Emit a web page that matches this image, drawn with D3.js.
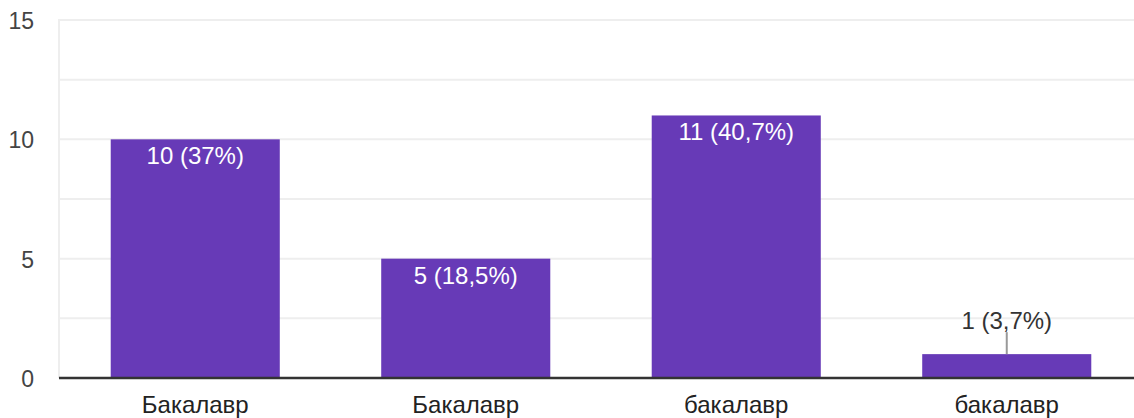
<!DOCTYPE html>
<html><head><meta charset="utf-8">
<script src="https://cdn.jsdelivr.net/npm/d3@7"></script>
<style>body{margin:0;background:#fff;overflow:hidden}svg{display:block;font-family:"Liberation Sans",Arial,sans-serif}</style>
</head><body>
<script>
const categories = ["Бакалавр", "Бакалавр ", "бакалавр", "бакалавр "];
const categoryLabels = ["Бакалавр", "Бакалавр", "бакалавр", "бакалавр"];
const values = [10, 5, 11, 1];
const valueLabels = ["10 (37%)", "5 (18,5%)", "11 (40,7%)", "1 (3,7%)"];
const yTicks = [0, 5, 10, 15];
const gridTicks = [0, 2.5, 5, 7.5, 10, 12.5, 15];

(function () {
const W = 1134, H = 418;
const FONT = "Liberation Sans, Arial, sans-serif";
const svg = d3.select("body").append("svg").attr("width", W).attr("height", H);
const mLeft = 60, mRight = 1142, mTop = 20, mBottom = 378;
const x = d3.scaleBand().domain(categories).range([mLeft, mRight]).paddingInner(0.375).paddingOuter(0.1875);
const y = d3.scaleLinear().domain([0, 15]).range([mBottom, mTop]);

// grid
svg.append("g").selectAll("line").data(gridTicks.filter(d => d > 0)).join("line")
  .attr("x1", mLeft - 1).attr("x2", W).attr("y1", d => y(d)).attr("y2", d => y(d))
  .attr("stroke", "#eeeeee").attr("stroke-width", 2);
svg.append("line").attr("x1", mLeft - 1).attr("x2", mLeft - 1).attr("y1", mTop - 1).attr("y2", mBottom)
  .attr("stroke", "#eeeeee").attr("stroke-width", 2);

// y axis labels
const yAxis = d3.axisLeft(y).tickValues(yTicks).tickSize(0).tickPadding(0);
const gy = svg.append("g").attr("transform", "translate(34,1)").call(yAxis);
gy.select(".domain").remove();
gy.selectAll("text").attr("font-size", 23).attr("fill", "#444").attr("font-family", FONT);

// bars
svg.append("g").selectAll("rect").data(values).join("rect")
  .attr("x", (d, i) => x(categories[i])).attr("width", x.bandwidth())
  .attr("y", d => y(d)).attr("height", d => y(0) - y(d))
  .attr("fill", "#673ab7");

// baseline
svg.append("line").attr("x1", mLeft - 1).attr("x2", W).attr("y1", y(0)).attr("y2", y(0))
  .attr("stroke", "#333").attr("stroke-width", 2.5);

// x axis labels
const xAxis = d3.axisBottom(x).tickSize(0).tickPadding(0).tickFormat((d, i) => categoryLabels[i]);
const gx = svg.append("g").attr("transform", `translate(0,${mBottom})`).call(xAxis);
gx.select(".domain").remove();
gx.selectAll("text").attr("dy", null).attr("y", 35).attr("font-size", 24).attr("fill", "#222")
  .attr("font-family", FONT);

// value labels
values.forEach((v, i) => {
  const cx = x(categories[i]) + x.bandwidth() / 2;
  const h = y(0) - y(v);
  if (h > 40) {
    svg.append("text").attr("x", cx).attr("y", y(v) + 25).attr("text-anchor", "middle")
      .attr("font-size", 24).attr("fill", "#fff").text(valueLabels[i]);
  } else {
    svg.append("line").attr("x1", cx).attr("x2", cx).attr("y1", y(v) - 22).attr("y2", y(v))
      .attr("stroke", "#999").attr("stroke-width", 2);
    svg.append("text").attr("x", cx).attr("y", y(v) - 25).attr("text-anchor", "middle")
      .attr("font-size", 24).attr("fill", "#333").text(valueLabels[i]);
  }
});
})();
</script>
</body></html>
